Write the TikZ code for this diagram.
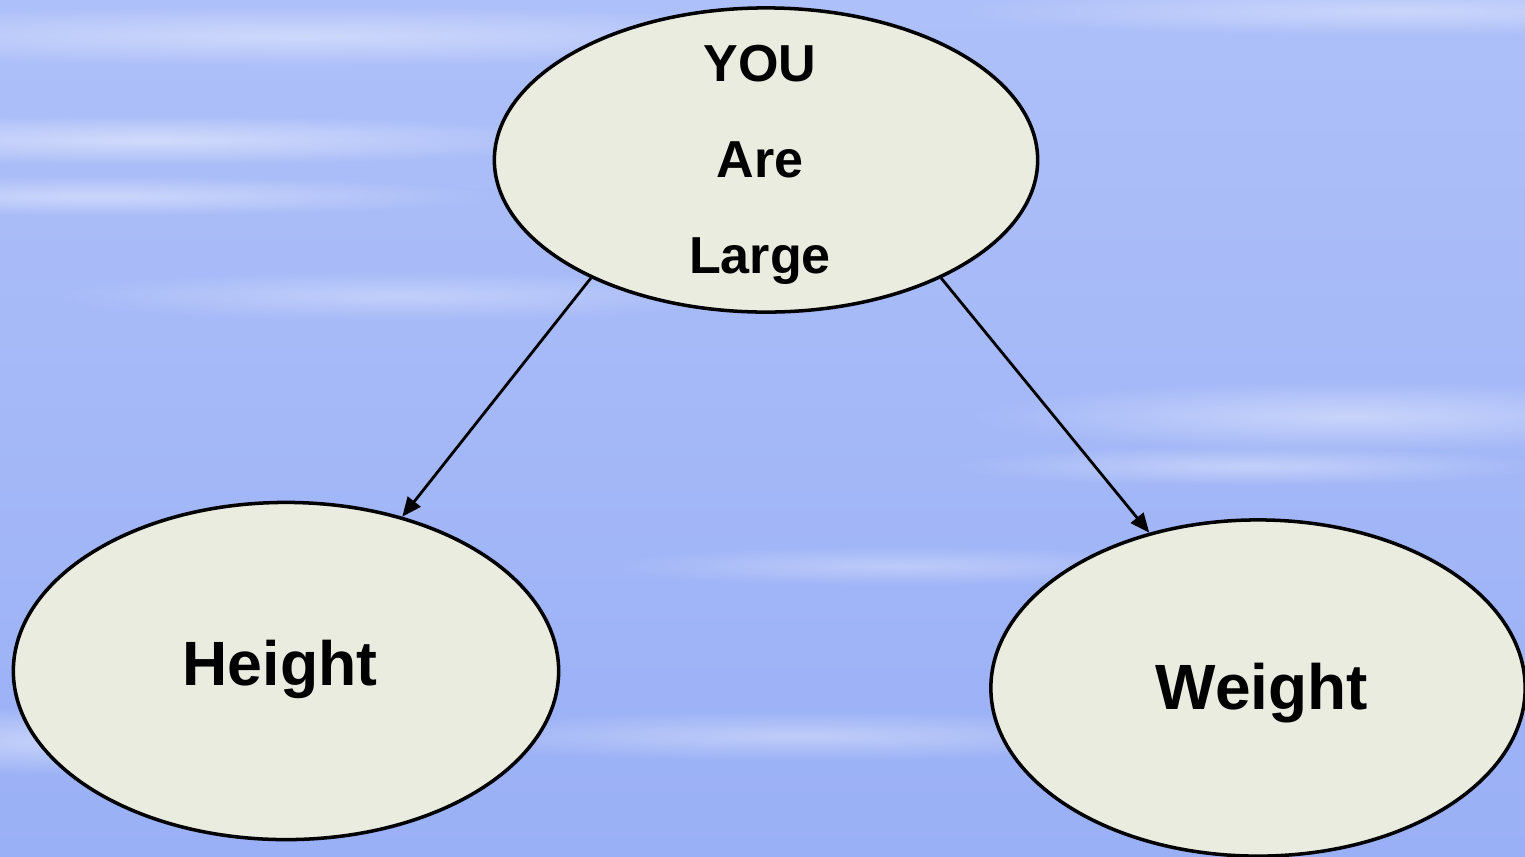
\documentclass[tikz,border=0pt]{standalone}
\usepackage{fontspec}
\setmainfont{Liberation Sans}
\usetikzlibrary{arrows.meta,shapes.geometric,fadings}
\definecolor{skytop}{HTML}{AEC0F9}
\definecolor{skymid}{HTML}{8FA7F4}
\definecolor{skybot}{HTML}{9AB0F6}
\definecolor{bubble}{HTML}{EBECE0}
\tikzfading[name=softstreak,inner color=transparent!0,outer color=transparent!100]
\tikzset{
  bubble/.style={ellipse,draw=black,line width=1pt,fill=bubble,inner sep=0pt,font=\bfseries},
  link/.style={line width=0.8pt,-{Triangle[length=5.5pt,width=4.6pt]}},
  streak/.style={fill=white,path fading=softstreak}
}
\begin{document}
\begin{tikzpicture}[x=0.01cm,y=0.01cm]
  \useasboundingbox (0,0) rectangle (1525,856);
  \clip (0,0) rectangle (1525,856);
  % background
  \shade[top color=skytop,middle color=skymid,bottom color=skybot] (0,0) rectangle (1525,856);
  \fill[streak,opacity=0.45] (150,716) ellipse (450 and 25);
  \fill[streak,opacity=0.40] (300,820) ellipse (600 and 30);
  \fill[streak,opacity=0.40] (100,660) ellipse (400 and 20);
  \fill[streak,opacity=0.40] (1350,440) ellipse (380 and 35);
  \fill[streak,opacity=0.35] (1250,390) ellipse (300 and 20);
  \fill[streak,opacity=0.45] (100,115) ellipse (350 and 35);
  \fill[streak,opacity=0.35] (1400,845) ellipse (450 and 25);
  \fill[streak,opacity=0.35] (800,120) ellipse (400 and 25);
  \fill[streak,opacity=0.30] (900,290) ellipse (300 and 20);
  \fill[streak,opacity=0.30] (400,560) ellipse (350 and 25);
  % nodes
  \node[bubble,minimum width=5.43cm,minimum height=3.04cm,
        label={[align=center,yshift=-0.05cm,xshift=-0.06cm,
                font=\bfseries\fontsize{14.8}{27.3}\selectfont]center:YOU\\Are\\Large}]
       (you) at (766,696) {};
  \node[bubble,minimum width=5.45cm,minimum height=3.37cm,
        label={[xshift=-0.06cm,yshift=0.02cm,font=\bfseries\fontsize{17.8}{20}\selectfont]center:Height}]
       (height) at (286,185) {};
  \node[bubble,minimum width=5.34cm,minimum height=3.36cm,
        label={[xshift=0.04cm,yshift=-0.05cm,font=\bfseries\fontsize{18.2}{20}\selectfont]center:Weight}]
       (weight) at (1258,168) {};
  % links
  \draw[link] (you.214.5) -- (height.53.3);
  \draw[link] (you.-34.4) -- (weight.125.5);
\end{tikzpicture}
\end{document}
